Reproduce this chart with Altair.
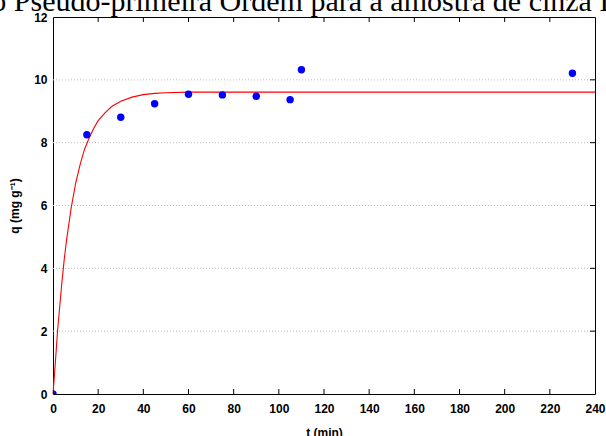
import altair as alt
import pandas as pd

# Experimental adsorption data: time (min) vs adsorbed amount q (mg/g)
time_obs = [0, 15, 30, 45, 60, 75, 90, 105, 110, 230]
q_obs = [0.0, 8.25, 8.81, 9.24, 9.54, 9.52, 9.48, 9.37, 10.32, 10.21]

# Pseudo-first-order fitted curve
time_fit = [0, 1, 2, 3, 4, 5, 6, 8, 10, 12, 14, 16, 18, 20, 23, 26, 30, 35, 40, 45, 50, 60, 240]
q_fit = [0.0, 0.95, 2.0, 2.8, 3.6, 4.3, 4.9, 5.9, 6.7, 7.3, 7.8, 8.15, 8.45, 8.7, 8.95,
         9.15, 9.32, 9.45, 9.53, 9.57, 9.59, 9.61, 9.61]

# Axis tick values
x_ticks = list(range(0, 241, 20))
y_ticks = list(range(0, 13, 2))
x_inner_ticks = x_ticks[1:-1]
y_inner_ticks = y_ticks[1:-1]

title_text = "Modelo Pseudo-primeira Ordem para a amostra de cinza L"

W, H = 542, 377
FONT = "Liberation Sans"

obs = pd.DataFrame({"t": time_obs, "q": q_obs})
fit = pd.DataFrame({"t": time_fit, "q": q_fit})
xt = pd.DataFrame({"t": x_inner_ticks})
yt = pd.DataFrame({"q": y_inner_ticks})
ttl = pd.DataFrame({"label": [title_text]})

xscale = alt.Scale(domain=[0, 240], nice=False, zero=False)
yscale = alt.Scale(domain=[0, 12], nice=False, zero=False)

xaxis = alt.Axis(values=x_ticks, ticks=False, domain=False, grid=False,
                 labelFont=FONT, labelFontWeight="bold", labelFontSize=12,
                 labelColor="black", labelPadding=9, labelFlush=False,
                 labelOverlap=False, titleFont=FONT, titleFontWeight="bold",
                 titleFontSize=12, titleColor="black", titlePadding=13)
yaxis = alt.Axis(values=y_ticks, ticks=False, domain=False, grid=False,
                 labelFont=FONT, labelFontWeight="bold", labelFontSize=12,
                 labelColor="black", labelPadding=6, labelFlush=False,
                 labelOverlap=False, titleFont=FONT, titleFontWeight="bold",
                 titleFontSize=12, titleColor="black", titlePadding=12)


def X(field="t"):
    return alt.X(f"{field}:Q", scale=xscale, axis=xaxis, title="t (min)")


def Y(field="q"):
    return alt.Y(f"{field}:Q", scale=yscale, axis=yaxis, title="q (mg g⁻¹)")


grid = alt.Chart(yt).mark_rule(color="#bcbcbc", strokeWidth=1, strokeDash=[1, 2]).encode(
    y=Y(), x=alt.value(0), x2=alt.value(W))

bottom_ticks = alt.Chart(xt).mark_rule(color="black", strokeWidth=1).encode(
    x=X(), y=alt.value(H), y2=alt.value(H - 5))
top_ticks = alt.Chart(xt).mark_rule(color="black", strokeWidth=1).encode(
    x=X(), y=alt.value(0), y2=alt.value(5))
right_ticks = alt.Chart(yt).mark_rule(color="black", strokeWidth=1).encode(
    y=Y(), x=alt.value(W), x2=alt.value(W - 5))

curve = alt.Chart(fit).mark_line(color="#ff0000", strokeWidth=1.1).encode(
    x=X(), y=Y())

points = alt.Chart(obs).mark_point(filled=True, color="#0000ff", size=55, opacity=1,
                                   clip=True).encode(
    x=X(), y=Y())

title = alt.Chart(ttl).mark_text(
    font="Liberation Serif", fontSize=30, align="left", baseline="alphabetic",
    color="black").encode(
    x=alt.value(-140), y=alt.value(-6), text="label:N")

chart = alt.layer(grid, bottom_ticks, top_ticks, right_ticks, curve, points, title).properties(
    width=W, height=H,
    autosize=alt.AutoSizeParams(type="none"),
    padding={"left": 53, "top": 17, "right": 11, "bottom": 42},
    background="white",
).configure_view(stroke="black", strokeWidth=1)

chart.save("out.html", embed_options={"renderer": "svg", "actions": False})
